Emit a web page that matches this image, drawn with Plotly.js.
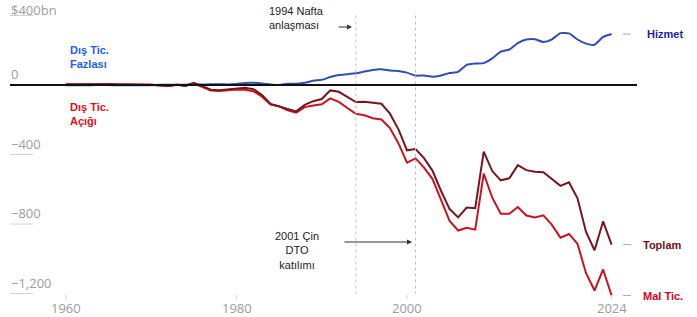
<!DOCTYPE html>
<html>
<head>
<meta charset="utf-8">
<script src="https://cdn.plot.ly/plotly-3.0.1.min.js"></script>
<style>html,body{margin:0;padding:0;background:#fff;}#chart{width:697px;height:317px;}</style>
</head>
<body>
<div id="chart"></div>
<script>
// ---- data (billions USD) ----
const years = [1960,1961,1962,1963,1964,1965,1966,1967,1968,1969,
  1970,1971,1972,1973,1974,1975,1976,1977,1978,1979,
  1980,1981,1982,1983,1984,1985,1986,1987,1988,1989,
  1990,1991,1992,1993,1994,1995,1996,1997,1998,1999,
  2000,2001,2002,2003,2004,2005,2006,2007,2008,2009,
  2010,2011,2012,2013,2014,2015,2016,2017,2018,2019,
  2020,2021,2022,2023,2024];
const services = [-1.4,-1.4,-1.1,-1.0,-0.2,-0.3,-1.5,-2.0,-1.0,-1.1,
  -0.3,1.0,1.0,1.0,1.2,3.5,3.4,3.8,4.2,3.0,
  6.1,11.9,12.3,9.3,3.4,0.3,6.5,7.9,12.4,24.6,
  30.2,45.8,57.7,62.1,67.3,77.8,86.9,90.2,83.2,81.2,
  71.0,54.1,54.5,47.7,54.9,68.6,75.6,115.8,123.8,125.9,
  153.4,191.9,204.4,241.0,261.5,262.9,247.7,263.0,298.5,297.0,
  261.9,238.1,231.8,276.4,293.4];
const goods = [4.9,5.6,4.5,5.2,6.8,5.0,3.8,3.8,0.6,0.6,
  2.6,-2.3,-6.4,0.9,-5.5,8.9,-9.5,-31.1,-33.9,-27.6,
  -25.5,-28.0,-36.5,-67.1,-112.5,-122.2,-145.1,-159.6,-127.0,-117.7,
  -111.0,-76.9,-96.9,-132.5,-165.8,-174.2,-191.0,-198.4,-248.2,-336.3,
  -446.8,-422.4,-475.2,-541.6,-664.8,-782.8,-837.3,-821.2,-832.5,-509.7,
  -648.7,-740.6,-741.1,-702.2,-751.5,-761.9,-749.8,-805.2,-878.7,-857.3,
  -913.9,-1083.5,-1183.0,-1061.5,-1211.7];
const total = [3.5,4.2,3.4,4.2,6.8,4.9,2.3,1.8,-0.4,-0.5,
  2.3,-1.3,-5.4,1.9,-4.3,12.4,-6.1,-27.2,-29.8,-24.6,
  -19.4,-16.2,-24.2,-57.8,-109.1,-121.9,-138.5,-151.7,-114.6,-93.1,
  -80.9,-31.1,-39.2,-70.3,-98.5,-96.4,-104.1,-108.3,-165.0,-255.1,
  -375.8,-368.3,-420.7,-493.9,-609.9,-714.2,-761.7,-705.4,-708.7,-383.8,
  -495.3,-548.6,-536.8,-461.2,-490.0,-499.0,-502.1,-542.2,-580.2,-560.3,
  -652.0,-845.4,-951.2,-785.1,-918.4];
const yTickVals = [400, 0, -400, -800, -1200];
const yTickText = ["$400bn", "0", "\u2212400", "\u2212800", "\u22121,200"];
const xTickVals = [1960, 1980, 2000, 2024];
const xTickText = ["1960", "1980", "2000", "2024"];
const eventYears = [1994, 2001];
const seriesNames = ["Hizmet", "Toplam", "Mal Tic."];

// ---- layout helpers ----
const W = 697, H = 317;
const pxPerYear = 8.525;
const xMin = 1960 - 66 / pxPerYear;
const xMax = xMin + W / pxPerYear;
const unitsPerPx = 400 / 69.5;
const yMax = 85 * unitsPerPx;
const yMin = -(H - 85) * unitsPerPx;
const px2x = p => xMin + p / pxPerYear;
const py2y = p => (85 - p) * unitsPerPx;

const colHiz = '#2f4fb0', colTop = '#781620', colMal = '#c8141f';

const traces = [
  {x: years, y: services, type: 'scatter', mode: 'lines', name: seriesNames[0],
   line: {color: colHiz, width: 2, shape: 'spline', smoothing: 0.5}},
  {x: years, y: goods, type: 'scatter', mode: 'lines', name: seriesNames[2],
   line: {color: colMal, width: 2}},
  {x: years, y: total, type: 'scatter', mode: 'lines', name: seriesNames[1],
   line: {color: colTop, width: 2}}
];

const shapes = [];
const annotations = [];
const grey = '#9c9c9c';

// y tick labels and short grid stubs
yTickVals.forEach((v, i) => {
  const top = (i === 0);
  annotations.push({x: 10 / W, xref: 'paper', xanchor: 'left', y: v, yref: 'y',
    yanchor: top ? 'middle' : 'bottom', yshift: top ? 6 : 1,
    text: yTickText[i], showarrow: false, borderpad: 0,
    font: {family: 'Open Sans', size: 13, color: grey}});
  shapes.push({type: 'line', xref: 'paper', x0: 10 / W, x1: 33 / W, yref: 'y', y0: v, y1: v,
    line: {color: '#d4d4d4', width: 1}});
});
// x tick labels and ticks
xTickVals.forEach((v, i) => {
  annotations.push({x: v, xref: 'x', xanchor: 'center', y: 1 - 308 / H, yref: 'paper', yanchor: 'middle',
    text: xTickText[i], showarrow: false, font: {family: 'Open Sans', size: 13, color: grey}});
  shapes.push({type: 'line', xref: 'x', x0: v, x1: v, yref: 'paper', y0: 1 - 295 / H, y1: 1 - 299 / H,
    line: {color: '#cfcfcf', width: 1}});
});
// event lines
eventYears.forEach(v => {
  shapes.push({type: 'line', xref: 'x', x0: v, x1: v, yref: 'y', y0: 400, y1: -1200,
    line: {color: '#bdbdbd', width: 1, dash: 'dot'}});
});
// zero line
shapes.push({type: 'line', xref: 'paper', x0: 10 / W, x1: 637 / W, yref: 'y', y0: 0, y1: 0,
  line: {color: '#111', width: 2}});

// end labels
const last = years.length - 1;
const endVals = [services[last], total[last], goods[last]];
const endCols = ['#1d1da6', '#7a0d17', '#e0001b'];
endVals.forEach((v, i) => {
  shapes.push({type: 'line', xref: 'paper', x0: 623 / W, x1: 631 / W, yref: 'y', y0: v, y1: v,
    line: {color: '#aaa', width: 1}});
  annotations.push({x: (i === 0 ? 645 : 641) / W, xref: 'paper', xanchor: 'left', y: v, yref: 'y', yanchor: 'middle',
    text: '<b>' + seriesNames[i] + '</b>', showarrow: false,
    font: {family: 'Liberation Sans, Arial', size: 11, color: endCols[i]}});
});

// side labels
annotations.push({x: 68 / W, xref: 'paper', xanchor: 'left', y: py2y(57), yref: 'y', yanchor: 'middle',
  text: '<b>Dış Tic.<br>Fazlası</b>', align: 'left', showarrow: false,
  font: {family: 'Liberation Sans, Arial', size: 11, color: '#1e5ff0'}});
annotations.push({x: 68 / W, xref: 'paper', xanchor: 'left', y: py2y(114), yref: 'y', yanchor: 'middle',
  text: '<b>Dış Tic.<br>Açığı</b>', align: 'left', showarrow: false,
  font: {family: 'Liberation Sans, Arial', size: 11, color: '#e0101a'}});

// event annotations
annotations.push({x: 267 / W, xref: 'paper', xanchor: 'left', y: py2y(18), yref: 'y', yanchor: 'middle',
  text: '1994 Nafta<br>anlaşması', align: 'left', showarrow: false,
  font: {family: 'Liberation Sans, Arial', size: 11, color: '#222'}});
annotations.push({x: px2x(352), y: py2y(27), xref: 'x', yref: 'y', text: '', showarrow: true,
  ax: px2x(337), ay: py2y(27), axref: 'x', ayref: 'y', arrowhead: 2, arrowsize: 1, arrowwidth: 1, arrowcolor: '#333'});
annotations.push({x: 297 / W, xref: 'paper', xanchor: 'center', y: py2y(250), yref: 'y', yanchor: 'middle',
  text: '2001 Çin<br>DTO<br>katılımı', align: 'center', showarrow: false,
  font: {family: 'Liberation Sans, Arial', size: 11, color: '#222'}});
annotations.push({x: px2x(412), y: py2y(242), xref: 'x', yref: 'y', text: '', showarrow: true,
  ax: px2x(343), ay: py2y(242), axref: 'x', ayref: 'y', arrowhead: 2, arrowsize: 1, arrowwidth: 1, arrowcolor: '#333'});

const layout = {
  width: W, height: H,
  margin: {l: 0, r: 0, t: 0, b: 0},
  paper_bgcolor: '#fff', plot_bgcolor: '#fff',
  showlegend: false,
  xaxis: {range: [xMin, xMax], visible: false, fixedrange: true},
  yaxis: {range: [yMin, yMax], visible: false, fixedrange: true},
  shapes: shapes,
  annotations: annotations
};

Plotly.newPlot('chart', traces, layout, {displayModeBar: false, staticPlot: true});
</script>
</body>
</html>
